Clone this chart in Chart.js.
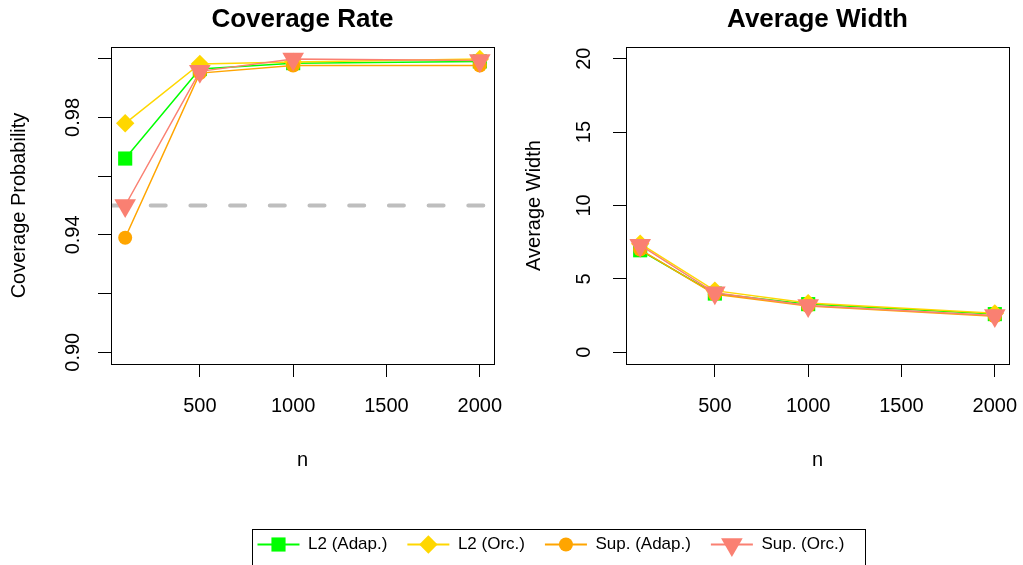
<!DOCTYPE html>
<html>
<head>
    <title>Coverage Rate / Average Width</title>
    <script src="https://cdn.jsdelivr.net/npm/chart.js"></script>
    <style>
        body { margin: 0; background: #fff; }
        #wrap { position: relative; width: 1023px; height: 565px; overflow: hidden; background: #fff; }
        canvas { position: absolute; }
    </style>
</head>
<body>
<div id="wrap">
    <canvas id="covChart" width="511" height="472" style="left:0;top:0"></canvas>
    <canvas id="widthChart" width="508" height="472" style="left:515px;top:0"></canvas>
    <canvas id="legendChart" width="1023" height="130" style="left:0;top:516px"></canvas>
</div>

<script>
    // sample sizes (x axis)
    var nValues = [100, 500, 1000, 2000];
    var seriesNames = ['L2 (Adap.)', 'L2 (Orc.)', 'Sup. (Adap.)', 'Sup. (Orc.)'];

    // coverage probability, one array per method
    var covL2Adap  = [0.966, 0.9965, 0.9985, 0.9991];
    var covL2Orc   = [0.978, 0.9982, 0.9989, 0.9999];
    var covSupAdap = [0.939, 0.9951, 0.9977, 0.9977];
    var covSupOrc  = [0.950, 0.9957, 0.9999, 0.9994];
    var nominalLevel = 0.95;

    // average width
    var widL2Adap  = [6.95, 4.00, 3.28, 2.60];
    var widL2Orc   = [7.40, 4.20, 3.35, 2.65];
    var widSupAdap = [7.00, 3.95, 3.15, 2.45];
    var widSupOrc  = [7.30, 4.05, 3.18, 2.50];

    // ticks
    var nTicks = [500, 1000, 1500, 2000];
    var covTicks = [0.90, 0.92, 0.94, 0.96, 0.98, 1.00];
    var covTickLabels = ['0.90', '', '0.94', '', '0.98', ''];
    var widTicks = [0, 5, 10, 15, 20];
    var widTickLabels = ['0', '5', '10', '15', '20'];

    // look of each series (same order as seriesNames)
    var styles = [
        { color: '#00FF00', pointStyle: 'rect',     radius: 10,  rotation: 0,   order: 4 },
        { color: '#FFD700', pointStyle: 'rectRot',  radius: 9.2, rotation: 0,   order: 3 },
        { color: '#FFA500', pointStyle: 'circle',   radius: 7,   rotation: 0,   order: 2 },
        { color: '#FA8072', pointStyle: 'triangle', radius: 12.5, rotation: 180, order: 1 }
    ];

    var FONT = "'Liberation Sans', Arial, Helvetica, sans-serif";
    Chart.defaults.font.family = FONT;
    Chart.defaults.color = '#000';

    // R style box round the plot region
    var boxPlugin = {
        id: 'box',
        afterDraw: function (chart) {
            var a = chart.chartArea, ctx = chart.ctx;
            ctx.save();
            ctx.strokeStyle = '#000';
            ctx.lineWidth = 1;
            ctx.strokeRect(Math.round(a.left) + 0.5, Math.round(a.top) + 0.5,
                Math.round(a.right) - Math.round(a.left), Math.round(a.bottom) - Math.round(a.top));
            ctx.restore();
        }
    };

    // dashed horizontal reference line (abline)
    var refLinePlugin = {
        id: 'refLine',
        beforeDatasetsDraw: function (chart, args, opts) {
            if (opts.value == null) return;
            var a = chart.chartArea, ctx = chart.ctx;
            var y = chart.scales.y.getPixelForValue(opts.value);
            ctx.save();
            ctx.beginPath();
            ctx.rect(a.left, a.top, a.right - a.left, a.bottom - a.top);
            ctx.clip();
            ctx.strokeStyle = '#BEBEBE';
            ctx.lineWidth = 4;
            ctx.lineCap = 'round';
            ctx.setLineDash([15, 24.7]);
            ctx.beginPath();
            ctx.moveTo(a.left, y);
            ctx.lineTo(a.right, y);
            ctx.stroke();
            ctx.restore();
        }
    };

    function rRange(lo, hi) {
        var pad = (hi - lo) * 0.04;
        return [lo - pad, hi + pad];
    }

    function makeDatasets(seriesValues) {
        return seriesValues.map(function (vals, i) {
            var s = styles[i];
            return {
                label: seriesNames[i],
                data: nValues.map(function (n, j) { return { x: n, y: vals[j] }; }),
                borderColor: s.color,
                backgroundColor: s.color,
                borderWidth: 1.5,
                pointStyle: s.pointStyle,
                pointRadius: s.radius,
                pointRotation: s.rotation,
                pointBackgroundColor: s.color,
                pointBorderWidth: 0,
                order: s.order,
                tension: 0
            };
        });
    }

    function makePanel(id, title, yTitle, seriesValues, yTicks, yLabels, yRange, yTickPad, rightPad, refValue) {
        var xr = rRange(nValues[0], nValues[nValues.length - 1]);
        return new Chart(document.getElementById(id), {
            type: 'line',
            data: { datasets: makeDatasets(seriesValues) },
            options: {
                responsive: false,
                animation: false,
                layout: { padding: { left: 0, right: rightPad, top: 0, bottom: 0 } },
                scales: {
                    x: {
                        type: 'linear',
                        min: xr[0],
                        max: xr[1],
                        afterBuildTicks: function (scale) {
                            scale.ticks = nTicks.map(function (v) { return { value: v }; });
                        },
                        afterFit: function (scale) {
                            scale.height = 108;
                            scale.paddingLeft = 0;
                            scale.paddingRight = 0;
                        },
                        ticks: {
                            autoSkip: false, maxRotation: 0, padding: 17,
                            font: { size: 20 }, color: '#000',
                            callback: function (v) { return String(v); }
                        },
                        grid: { drawOnChartArea: false, drawTicks: true, tickLength: 13, color: '#000', lineWidth: 1 },
                        border: { display: false },
                        title: { display: true, text: 'n', font: { size: 20 }, color: '#000', padding: { top: 0, bottom: 0 } }
                    },
                    y: {
                        type: 'linear',
                        min: yRange[0],
                        max: yRange[1],
                        afterBuildTicks: function (scale) {
                            scale.ticks = yTicks.map(function (v) { return { value: v }; });
                        },
                        afterFit: function (scale) {
                            scale.width = 111;
                            scale.paddingTop = 0;
                            scale.paddingBottom = 0;
                        },
                        ticks: {
                            autoSkip: false, minRotation: 90, maxRotation: 90, crossAlign: 'center',
                            padding: yTickPad, font: { size: 20 }, color: '#000',
                            callback: function (v, i) { return yLabels[i]; }
                        },
                        grid: { drawOnChartArea: false, drawTicks: true, tickLength: 13, color: '#000', lineWidth: 1 },
                        border: { display: false },
                        title: { display: true, text: yTitle, font: { size: 20 }, color: '#000', padding: { top: 7, bottom: 0 } }
                    }
                },
                plugins: {
                    legend: { display: false },
                    tooltip: { enabled: false },
                    title: {
                        display: true, text: title, fullSize: false, color: '#000',
                        font: { size: 26, weight: 'bold' }, padding: { top: 4, bottom: 11.8 }
                    },
                    refLine: { value: refValue }
                }
            },
            plugins: [boxPlugin, refLinePlugin]
        });
    }

    makePanel('covChart', 'Coverage Rate', 'Coverage Probability',
        [covL2Adap, covL2Orc, covSupAdap, covSupOrc],
        covTicks, covTickLabels, rRange(0.90, 1.00), 5, 17, nominalLevel);

    makePanel('widthChart', 'Average Width', 'Average Width',
        [widL2Adap, widL2Orc, widSupAdap, widSupOrc],
        widTicks, widTickLabels, rRange(0, 20), 17.6, 14, null);

    // legend: lines from Chart.js, markers and frame added on top
    var legendDecor = {
        id: 'legendDecor',
        afterDraw: function (chart) {
            var ctx = chart.ctx, hb = chart.legend.legendHitBoxes;
            ctx.save();
            hb.forEach(function (b, i) {
                var s = styles[i];
                ctx.fillStyle = s.color;
                Chart.helpers.drawPoint(ctx, {
                    pointStyle: s.pointStyle, radius: s.radius,
                    rotation: s.rotation, borderWidth: 0
                }, b.left + 21, b.top + b.height / 2);
            });
            var last = hb[hb.length - 1];
            var left = Math.round(hb[0].left - 5) + 0.5;
            var right = Math.round(last.left + last.width + 20) + 0.5;
            var top = Math.round(hb[0].top - 7) + 0.5;
            ctx.strokeStyle = '#000';
            ctx.lineWidth = 1;
            ctx.strokeRect(left, top, right - left, 60);
            ctx.restore();
        }
    };

    new Chart(document.getElementById('legendChart'), {
        type: 'line',
        data: {
            datasets: seriesNames.map(function (name, i) {
                return { label: name, data: [], borderColor: styles[i].color, backgroundColor: styles[i].color, borderWidth: 2 };
            })
        },
        options: {
            responsive: false,
            animation: false,
            layout: { padding: { left: 79, top: 0 } },
            scales: { x: { display: false }, y: { display: false } },
            plugins: {
                tooltip: { enabled: false },
                legend: {
                    position: 'top',
                    labels: {
                        usePointStyle: true, pointStyle: 'line', pointStyleWidth: 42, boxHeight: 17,
                        padding: 20, color: '#000', font: { size: 17 }
                    }
                }
            }
        },
        plugins: [legendDecor]
    });
</script>
</body>
</html>
